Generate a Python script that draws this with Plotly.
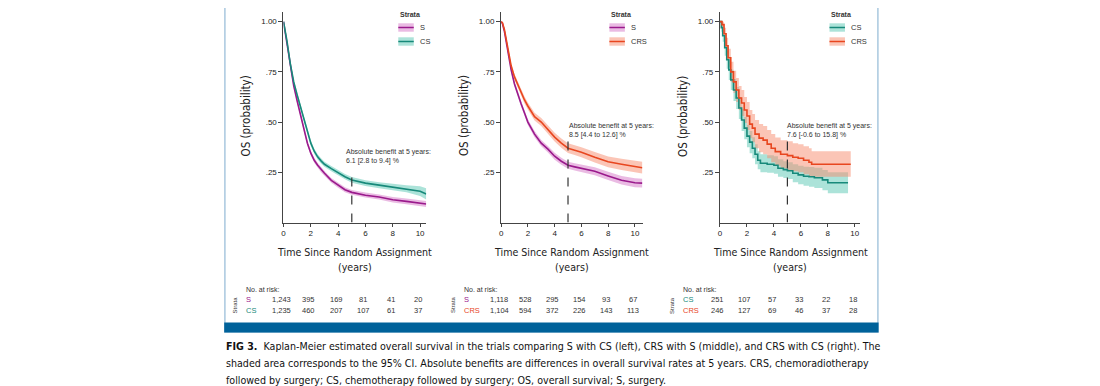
import plotly.graph_objects as go

# ---------------- data ----------------
# Left panel: S vs CS
t_left = [0, 0.1, 0.25, 0.5, 0.75, 1.0, 1.25, 1.5, 1.75, 2.0, 2.25, 2.5, 2.75, 3.0,
          3.5, 4.0, 4.5, 5.0, 5.5, 6.0, 7.0, 8.0, 9.0, 10.0, 10.45]
s_left = [1.0, 0.955, 0.885, 0.77, 0.68, 0.605, 0.535, 0.465, 0.395, 0.345, 0.31, 0.285, 0.262, 0.245,
          0.21, 0.185, 0.163, 0.150, 0.142, 0.136, 0.127, 0.113, 0.105, 0.096, 0.092]
s_left_lo = [1.0, 0.95, 0.877, 0.76, 0.669, 0.593, 0.523, 0.453, 0.383, 0.333, 0.298, 0.273, 0.25, 0.233,
             0.198, 0.173, 0.151, 0.138, 0.13, 0.124, 0.114, 0.1, 0.091, 0.081, 0.077]
s_left_hi = [1.0, 0.96, 0.893, 0.78, 0.691, 0.617, 0.547, 0.477, 0.407, 0.357, 0.322, 0.297, 0.274, 0.257,
             0.222, 0.197, 0.175, 0.162, 0.154, 0.149, 0.14, 0.127, 0.119, 0.111, 0.107]
cs_left = [1.0, 0.965, 0.905, 0.79, 0.70, 0.635, 0.575, 0.515, 0.45, 0.395, 0.355, 0.327, 0.307, 0.29,
           0.268, 0.247, 0.228, 0.212, 0.203, 0.196, 0.186, 0.176, 0.168, 0.156, 0.142]
cs_left_lo = [1.0, 0.96, 0.897, 0.78, 0.689, 0.623, 0.563, 0.503, 0.438, 0.382, 0.342, 0.314, 0.294, 0.277,
              0.255, 0.234, 0.215, 0.198, 0.189, 0.182, 0.171, 0.16, 0.151, 0.132, 0.115]
cs_left_hi = [1.0, 0.97, 0.913, 0.80, 0.711, 0.647, 0.587, 0.527, 0.462, 0.408, 0.368, 0.34, 0.32, 0.303,
              0.281, 0.26, 0.241, 0.226, 0.217, 0.21, 0.201, 0.192, 0.185, 0.18, 0.17]

# Middle panel: S vs CRS
t_mid = [0, 0.1, 0.25, 0.5, 0.75, 1.0, 1.25, 1.5, 1.75, 2.0, 2.5, 3.0, 3.5, 4.0, 4.5,
         5.0, 5.5, 6.0, 7.0, 8.0, 9.0, 10.0, 10.55]
s_mid = [1.0, 0.99, 0.95, 0.85, 0.76, 0.69, 0.635, 0.59, 0.545, 0.50, 0.44, 0.395, 0.365, 0.33, 0.305,
         0.285, 0.277, 0.27, 0.255, 0.232, 0.21, 0.198, 0.196]
s_mid_lo = [1.0, 0.986, 0.942, 0.839, 0.748, 0.677, 0.622, 0.576, 0.531, 0.486, 0.425, 0.379, 0.349, 0.313, 0.288,
            0.267, 0.259, 0.251, 0.235, 0.211, 0.189, 0.176, 0.174]
s_mid_hi = [1.0, 0.994, 0.958, 0.861, 0.772, 0.703, 0.648, 0.604, 0.559, 0.514, 0.455, 0.411, 0.381, 0.347, 0.322,
            0.303, 0.295, 0.289, 0.275, 0.253, 0.231, 0.22, 0.218]
crs_mid = [1.0, 0.995, 0.96, 0.87, 0.78, 0.725, 0.685, 0.645, 0.61, 0.58, 0.527, 0.50, 0.46, 0.425, 0.395,
           0.37, 0.36, 0.35, 0.325, 0.302, 0.29, 0.28, 0.273]
crs_mid_lo = [1.0, 0.991, 0.951, 0.859, 0.767, 0.711, 0.67, 0.629, 0.593, 0.562, 0.508, 0.48, 0.439, 0.403, 0.372,
              0.346, 0.336, 0.325, 0.299, 0.275, 0.262, 0.251, 0.244]
crs_mid_hi = [1.0, 0.999, 0.969, 0.881, 0.793, 0.739, 0.7, 0.661, 0.627, 0.598, 0.546, 0.52, 0.481, 0.447, 0.418,
              0.394, 0.384, 0.375, 0.351, 0.329, 0.318, 0.309, 0.302]

# Right panel: CS vs CRS (step curves)
t_cs_right = [0, 0.1, 0.2, 0.35, 0.5, 0.65, 0.8, 1.0, 1.2, 1.4, 1.6, 1.8, 2.0, 2.2, 2.4, 2.6, 2.8, 3.0,
              3.5, 4.0, 4.3, 4.7, 5.0, 5.4, 5.8, 6.2, 6.6, 7.0, 7.6, 8.0, 9.5]
cs_right = [1.0, 0.97, 0.93, 0.87, 0.81, 0.76, 0.71, 0.66, 0.62, 0.57, 0.51, 0.47, 0.43, 0.40, 0.37, 0.34, 0.31,
            0.295, 0.29, 0.285, 0.27, 0.263, 0.258, 0.245, 0.237, 0.23, 0.228, 0.223, 0.212, 0.198, 0.198]
cs_right_lo = [1.0, 0.95, 0.9, 0.83, 0.765, 0.71, 0.66, 0.605, 0.565, 0.515, 0.455, 0.415, 0.375, 0.345, 0.32,
               0.29, 0.265, 0.25, 0.248, 0.243, 0.228, 0.222, 0.216, 0.2, 0.19, 0.183, 0.178, 0.172, 0.16, 0.146, 0.146]
cs_right_hi = [1.0, 0.99, 0.96, 0.91, 0.855, 0.81, 0.76, 0.715, 0.675, 0.625, 0.565, 0.525, 0.485, 0.455, 0.425,
               0.39, 0.355, 0.34, 0.335, 0.33, 0.315, 0.305, 0.3, 0.29, 0.283, 0.278, 0.276, 0.272, 0.262, 0.25, 0.25]

t_crs_right = [0, 0.15, 0.3, 0.45, 0.6, 0.8, 1.0, 1.2, 1.4, 1.6, 1.8, 2.0, 2.2, 2.4, 2.6, 2.9, 3.2, 3.5,
               3.8, 4.1, 4.5, 5.0, 5.4, 5.8, 6.2, 6.6, 6.8, 9.7]
crs_right = [1.0, 0.985, 0.94, 0.88, 0.82, 0.75, 0.70, 0.66, 0.62, 0.595, 0.56, 0.53, 0.49, 0.47, 0.44, 0.42, 0.41,
             0.39, 0.37, 0.353, 0.34, 0.333, 0.325, 0.32, 0.31, 0.30, 0.29, 0.29]
crs_right_lo = [1.0, 0.97, 0.91, 0.84, 0.775, 0.7, 0.645, 0.6, 0.56, 0.53, 0.495, 0.46, 0.42, 0.4, 0.37, 0.35,
                0.34, 0.32, 0.3, 0.283, 0.27, 0.262, 0.255, 0.25, 0.24, 0.232, 0.228, 0.228]
crs_right_hi = [1.0, 1.0, 0.97, 0.92, 0.865, 0.8, 0.755, 0.72, 0.68, 0.66, 0.625, 0.6, 0.56, 0.54, 0.51, 0.49,
                0.48, 0.46, 0.44, 0.423, 0.41, 0.405, 0.395, 0.39, 0.38, 0.37, 0.355, 0.355]

# Numbers at risk (times 0, 2, 4, 6, 8, 10)
risk_times = [0, 2, 4, 6, 8, 10]
risk_left_s = [1243, 395, 169, 81, 41, 20]
risk_left_cs = [1235, 460, 207, 107, 61, 37]
risk_mid_s = [1118, 528, 295, 154, 93, 67]
risk_mid_crs = [1104, 594, 372, 226, 143, 113]
risk_right_cs = [251, 107, 57, 33, 22, 18]
risk_right_crs = [246, 127, 69, 46, 37, 28]

# Absolute benefit at 5 years
benefit_text = ["6.1 [2.8 to 9.4] %", "8.5 [4.4 to 12.6] %", "7.6 [-0.6 to 15.8] %"]
benefit_year = 5
benefit_line_top = [0.245, 0.41, 0.41]

x_ticks = [0, 2, 4, 6, 8, 10]
y_ticks = [0.25, 0.50, 0.75, 1.00]
y_ticktext = [".25", ".50", ".75", "1.00"]

caption_lines = [
    "<b>FIG 3.</b>  Kaplan-Meier estimated overall survival in the trials comparing S with CS (left), CRS with S (middle), and CRS with CS (right). The",
    "shaded area corresponds to the 95% CI. Absolute benefits are differences in overall survival rates at 5 years. CRS, chemoradiotherapy",
    "followed by surgery; CS, chemotherapy followed by surgery; OS, overall survival; S, surgery.",
]

# ---------------- styling ----------------
OFF = 8                      # page body margin of the html output
W, H = 1100 - OFF, 386 - OFF
COL = {"S": "#9a1a8c", "CS": "#17897a", "CRS": "#e8461f"}
FILL = {"S": "rgba(214,120,200,0.50)", "CS": "rgba(90,200,180,0.50)", "CRS": "rgba(248,140,110,0.50)"}
COND = "DejaVu Sans Condensed, Liberation Sans Narrow, Arial Narrow, sans-serif"
SANS = "Liberation Sans, Arial, Helvetica, sans-serif"
TXT = "#333333"


def pxx(p):
    return (p - OFF) / W


def pxy(p):
    return 1 - (p - OFF) / H


panels = [
    dict(ax="", x0=282, x1=425, xmax=10.45, shape="linear",
         series=[("S", t_left, s_left, s_left_lo, s_left_hi), ("CS", t_left, cs_left, cs_left_lo, cs_left_hi)],
         risk=[("S", risk_left_s), ("CS", risk_left_cs)], legend_x=397, ann_x=4.43, ann_y=0.328),
    dict(ax="2", x0=500, x1=641.7, xmax=10.57, shape="linear",
         series=[("S", t_mid, s_mid, s_mid_lo, s_mid_hi), ("CRS", t_mid, crs_mid, crs_mid_lo, crs_mid_hi)],
         risk=[("S", risk_mid_s), ("CRS", risk_mid_crs)], legend_x=608.5, ann_x=4.93, ann_y=0.456),
    dict(ax="3", x0=719.3, x1=860, xmax=10.42, shape="hv",
         series=[("CS", t_cs_right, cs_right, cs_right_lo, cs_right_hi),
                 ("CRS", t_crs_right, crs_right, crs_right_lo, crs_right_hi)],
         risk=[("CS", risk_right_cs), ("CRS", risk_right_crs)], legend_x=829, ann_x=4.81, ann_y=0.459),
]

Y_TOP_PX, Y_BOT_PX = 12, 222.5
fig = go.Figure()
shapes, annotations = [], []
layout_axes = {}

for i, p in enumerate(panels):
    ax = p["ax"]
    xref, yref = "x" + ax, "y" + ax
    # confidence bands first
    for name, t, v, lo, hi in p["series"]:
        fig.add_trace(go.Scatter(x=t, y=hi, mode="lines", line=dict(width=0, shape=p["shape"]),
                                 xaxis=xref, yaxis=yref, showlegend=False, hoverinfo="skip"))
        fig.add_trace(go.Scatter(x=t, y=lo, mode="lines", line=dict(width=0, shape=p["shape"]),
                                 fill="tonexty", fillcolor=FILL[name],
                                 xaxis=xref, yaxis=yref, showlegend=False, hoverinfo="skip"))
    for name, t, v, lo, hi in p["series"]:
        fig.add_trace(go.Scatter(x=t, y=v, mode="lines", line=dict(color=COL[name], width=1.6, shape=p["shape"]),
                                 xaxis=xref, yaxis=yref, showlegend=False, name=name))

    layout_axes["xaxis" + ax] = dict(
        domain=[pxx(p["x0"]), pxx(p["x1"])], range=[0, p["xmax"]], anchor=yref,
        tickvals=x_ticks, showline=True, linecolor="#444", linewidth=1.2, ticks="outside",
        ticklen=3, tickcolor="#444", showgrid=False, zeroline=False,
        tickfont=dict(family=SANS, size=8, color="#222"))
    layout_axes["yaxis" + ax] = dict(
        domain=[pxy(Y_BOT_PX), pxy(Y_TOP_PX)], range=[0, 1.048], anchor=xref,
        tickvals=y_ticks, ticktext=y_ticktext, showline=True, linecolor="#444", linewidth=1.2,
        ticks="outside", ticklen=4, tickcolor="#444", showgrid=False, zeroline=False,
        tickfont=dict(family=SANS, size=8, color="#222"))

    # dashed line at 5 years
    shapes.append(dict(type="line", xref=xref, yref=yref, x0=benefit_year, x1=benefit_year,
                       y0=0, y1=benefit_line_top[i], line=dict(color="#333", width=1.2, dash="dash")))
    annotations.append(dict(xref=xref, yref=yref, x=p["ann_x"], y=p["ann_y"], xanchor="left", yanchor="middle",
                            align="left", showarrow=False,
                            text="Absolute benefit at 5 years:<br>" + benefit_text[i],
                            font=dict(family=SANS, size=7, color=TXT)))

    # axis titles
    annotations.append(dict(xref=xref + " domain", yref="paper", x=0.5, y=pxy(251.5), xanchor="center",
                            yanchor="middle", showarrow=False, text="Time Since Random Assignment",
                            font=dict(family=COND, size=10.6, color="#222")))
    annotations.append(dict(xref=xref + " domain", yref="paper", x=0.5, y=pxy(267), xanchor="center",
                            yanchor="middle", showarrow=False, text="(years)",
                            font=dict(family=COND, size=10.6, color="#222")))
    annotations.append(dict(xref=xref + " domain", yref="paper", x=0, xshift=-37, y=pxy(116), xanchor="center",
                            yanchor="middle", showarrow=False, text="OS (probability)", textangle=-90,
                            font=dict(family=COND, size=11.5, color="#222")))

    # legend
    lx = p["legend_x"]
    annotations.append(dict(xref="paper", yref="paper", x=pxx(lx), y=pxy(15), xanchor="left", yanchor="middle",
                            showarrow=False, text="<b>Strata</b>", font=dict(family=SANS, size=7, color=TXT)))
    for k, (name, *_rest) in enumerate(p["series"]):
        ytop = 23.3 + 14 * k
        shapes.append(dict(type="rect", xref="paper", yref="paper", x0=pxx(lx), x1=pxx(lx + 15.5),
                           y0=pxy(ytop + 8.4), y1=pxy(ytop), fillcolor=FILL[name], line=dict(width=0)))
        shapes.append(dict(type="line", xref="paper", yref="paper", x0=pxx(lx), x1=pxx(lx + 15.5),
                           y0=pxy(ytop + 4.2), y1=pxy(ytop + 4.2), line=dict(color=COL[name], width=1.5)))
        annotations.append(dict(xref="paper", yref="paper", x=pxx(lx + 19.5), y=pxy(ytop + 4.2),
                                xanchor="left", yanchor="middle", showarrow=False, text=name,
                                font=dict(family=SANS, size=7.5, color=TXT)))

    # risk table
    annotations.append(dict(xref=xref, yref="paper", x=0, xshift=-39, y=pxy(289.5), xanchor="left",
                            yanchor="middle", showarrow=False, text="No. at risk:",
                            font=dict(family=SANS, size=7, color=TXT)))
    annotations.append(dict(xref=xref, yref="paper", x=0, xshift=-48, y=pxy(305), xanchor="center",
                            yanchor="middle", showarrow=False, text="Strata", textangle=-90,
                            font=dict(family=SANS, size=6, color=TXT)))
    for k, (name, counts) in enumerate(p["risk"]):
        yrow = 299.7 + 10.8 * k
        annotations.append(dict(xref=xref, yref="paper", x=0, xshift=-39, y=pxy(yrow), xanchor="left",
                                yanchor="middle", showarrow=False, text=name,
                                font=dict(family=SANS, size=7.5, color=COL[name])))
        for tt, c in zip(risk_times, counts):
            annotations.append(dict(xref=xref, yref="paper", x=tt, xshift=-2, y=pxy(yrow), xanchor="center",
                                    yanchor="middle", showarrow=False, text=f"{c:,}",
                                    font=dict(family=SANS, size=7.5, color=TXT)))

# frame and bottom bar
shapes.append(dict(type="rect", xref="paper", yref="paper", x0=pxx(223.3), x1=pxx(877.5),
                   y0=pxy(332), y1=pxy(3.3), line=dict(color="#a3c4dc", width=1.4), fillcolor="rgba(0,0,0,0)",
                   layer="below"))
shapes.append(dict(type="rect", xref="paper", yref="paper", x0=pxx(222.6), x1=pxx(878.2),
                   y0=pxy(332.5), y1=pxy(322.5), line=dict(width=0), fillcolor="#00629a"))

# caption
for k, line in enumerate(caption_lines):
    annotations.append(dict(xref="paper", yref="paper", x=pxx(222), y=pxy(345.5 + 17 * k), xanchor="left",
                            yanchor="middle", showarrow=False, text=line,
                            font=dict(family=COND, size=10.6, color="#111")))

fig.update_layout(
    width=W, height=H, margin=dict(l=0, r=0, t=0, b=0),
    paper_bgcolor="white", plot_bgcolor="white", showlegend=False,
    shapes=shapes, annotations=annotations, **layout_axes)

fig.write_html("out.html")
